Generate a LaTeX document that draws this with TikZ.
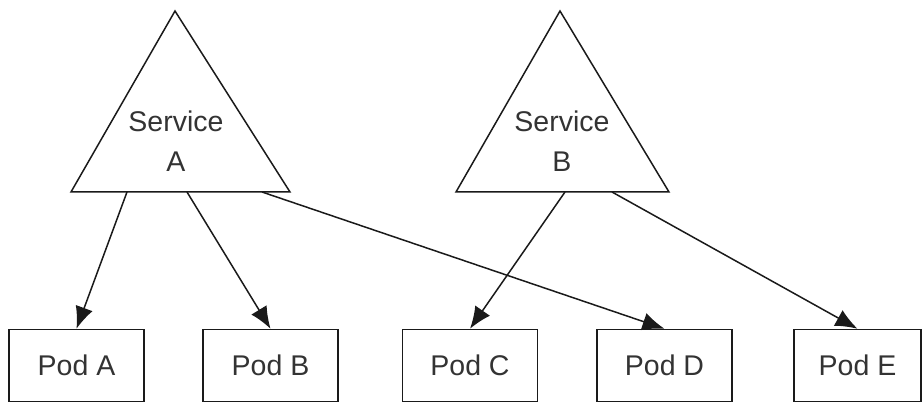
\documentclass[tikz,border=0pt]{standalone}
\usepackage{fontspec}
\setmainfont{Liberation Sans}
\usetikzlibrary{arrows.meta}
\definecolor{ink}{HTML}{1A1A1A}
\definecolor{txt}{HTML}{333333}
\begin{document}
\begin{tikzpicture}[x=1pt,y=-1pt,
  line width=1.5pt, draw=ink,
  podbox/.style={draw=ink, line width=1.5pt, minimum width=135pt, minimum height=72pt, inner sep=0pt,
    font=\fontsize{28.5}{34}\selectfont, text=txt},
  svclabel/.style={align=center, font=\fontsize{28.5}{40}\selectfont, text=txt, inner sep=0pt},
  arr/.style={draw=ink, line width=1.5pt, arrows={-Latex[length=22pt,width=18pt]}}]
\useasboundingbox (0,0) rectangle (922,403);
% Service A triangle
\coordinate (At) at (175,11);
\coordinate (Al) at (71,192);
\coordinate (Ar) at (290,192);
\draw[line join=miter] (At) -- (Al) -- (Ar) -- cycle;
\node[svclabel] (svcA) at (176,141) {Service\\A};
% Service B triangle
\coordinate (Bt) at (560,11);
\coordinate (Bl) at (456,192);
\coordinate (Br) at (669,192);
\draw[line join=miter] (Bt) -- (Bl) -- (Br) -- cycle;
\node[svclabel] (svcB) at (562,141) {Service\\B};
% Pods
\node[podbox] (podA) at (76.5,365.5) {Pod A};
\node[podbox] (podB) at (270.5,365.5) {Pod B};
\node[podbox] (podC) at (470,365.5) {Pod C};
\node[podbox] (podD) at (664.5,365.5) {Pod D};
\node[podbox, minimum width=127pt] (podE) at (857.5,365.5) {Pod E};
% Arrow start points on triangle bases
\coordinate (a1) at (127,192);
\coordinate (a2) at (187,192);
\coordinate (a3) at (262,192);
\coordinate (b1) at (565,192);
\coordinate (b2) at (612,192);
\draw[arr] (a1) -- (podA.north);
\draw[arr] (a2) -- (podB.north);
\draw[arr] (a3) -- (podD.north);
\draw[arr] (b1) -- (podC.north);
\draw[arr] (b2) -- (podE.north);
\end{tikzpicture}
\end{document}
